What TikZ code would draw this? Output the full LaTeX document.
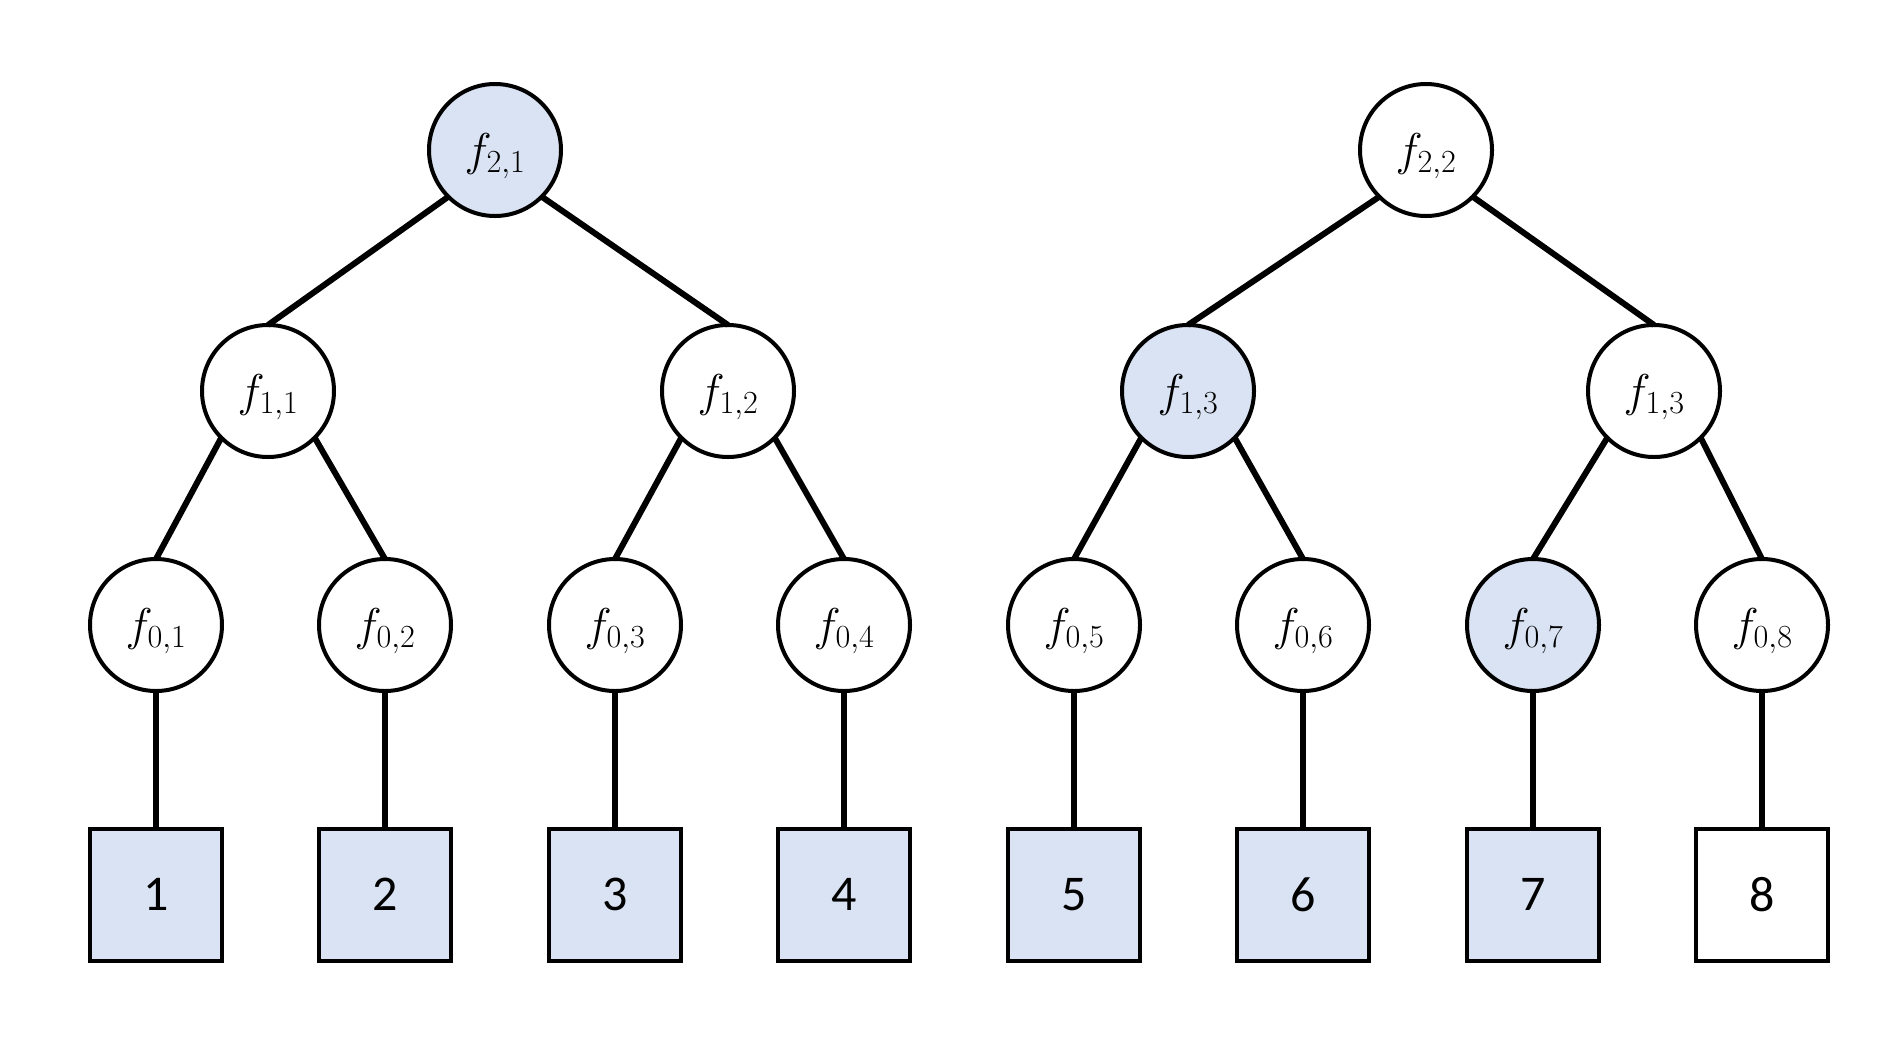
\RequirePackage{fix-cm}
\documentclass[tikz,border=0pt]{standalone}
\usepackage{fontspec}
\newfontfamily\digitfont{Carlito}
\definecolor{lightblue}{HTML}{DAE3F3}
\newcommand{\flab}[1]{\raisebox{-6pt}[\height][\depth]{$f_{#1}$}}
\begin{document}
\begin{tikzpicture}[x=1pt,y=-1pt,
  fnode/.style={circle,draw=black,line width=4pt,minimum size=132pt,inner sep=0pt,outer sep=0pt,font=\fontsize{46}{56}\selectfont},
  leaf/.style={rectangle,draw=black,line width=4pt,minimum size=132pt,inner sep=0pt,outer sep=0pt,font=\digitfont\fontsize{50}{60}\selectfont},
  hl/.style={fill=lightblue},
  edge/.style={line width=6pt}]
\useasboundingbox (0,0) rectangle (1903,1045);
% level 2
\node[fnode,hl] (f21) at (495,150) {\flab{2,1}};
\node[fnode] (f22) at (1426,150) {\flab{2,2}};
% level 1
\node[fnode] (f11) at (268,391) {\flab{1,1}};
\node[fnode] (f12) at (728,391) {\flab{1,2}};
\node[fnode,hl] (f13) at (1188,391) {\flab{1,3}};
\node[fnode] (f14) at (1654,391) {\flab{1,3}};
% level 0
\node[fnode] (f01) at (156,625) {\flab{0,1}};
\node[fnode] (f02) at (385,625) {\flab{0,2}};
\node[fnode] (f03) at (615,625) {\flab{0,3}};
\node[fnode] (f04) at (844,625) {\flab{0,4}};
\node[fnode] (f05) at (1074,625) {\flab{0,5}};
\node[fnode] (f06) at (1303,625) {\flab{0,6}};
\node[fnode,hl] (f07) at (1533,625) {\flab{0,7}};
\node[fnode] (f08) at (1762,625) {\flab{0,8}};
% leaves
\node[leaf,hl] (b1) at (156,894.5) {1};
\node[leaf,hl] (b2) at (385,894.5) {2};
\node[leaf,hl] (b3) at (615,894.5) {3};
\node[leaf,hl] (b4) at (844,894.5) {4};
\node[leaf,hl] (b5) at (1074,894.5) {5};
\node[leaf,hl] (b6) at (1303,894.5) {6};
\node[leaf,hl] (b7) at (1533,894.5) {7};
\node[leaf] (b8) at (1762,894.5) {8};
% edges
\draw[edge] (f21.south west) -- (f11.north);
\draw[edge] (f21.south east) -- (f12.north);
\draw[edge] (f22.south west) -- (f13.north);
\draw[edge] (f22.south east) -- (f14.north);
\draw[edge] (f11.south west) -- (f01.north);
\draw[edge] (f11.south east) -- (f02.north);
\draw[edge] (f12.south west) -- (f03.north);
\draw[edge] (f12.south east) -- (f04.north);
\draw[edge] (f13.south west) -- (f05.north);
\draw[edge] (f13.south east) -- (f06.north);
\draw[edge] (f14.south west) -- (f07.north);
\draw[edge] (f14.south east) -- (f08.north);
\foreach \i in {1,...,8}{\draw[edge] (f0\i.south) -- (b\i.north);}
\end{tikzpicture}
\end{document}
